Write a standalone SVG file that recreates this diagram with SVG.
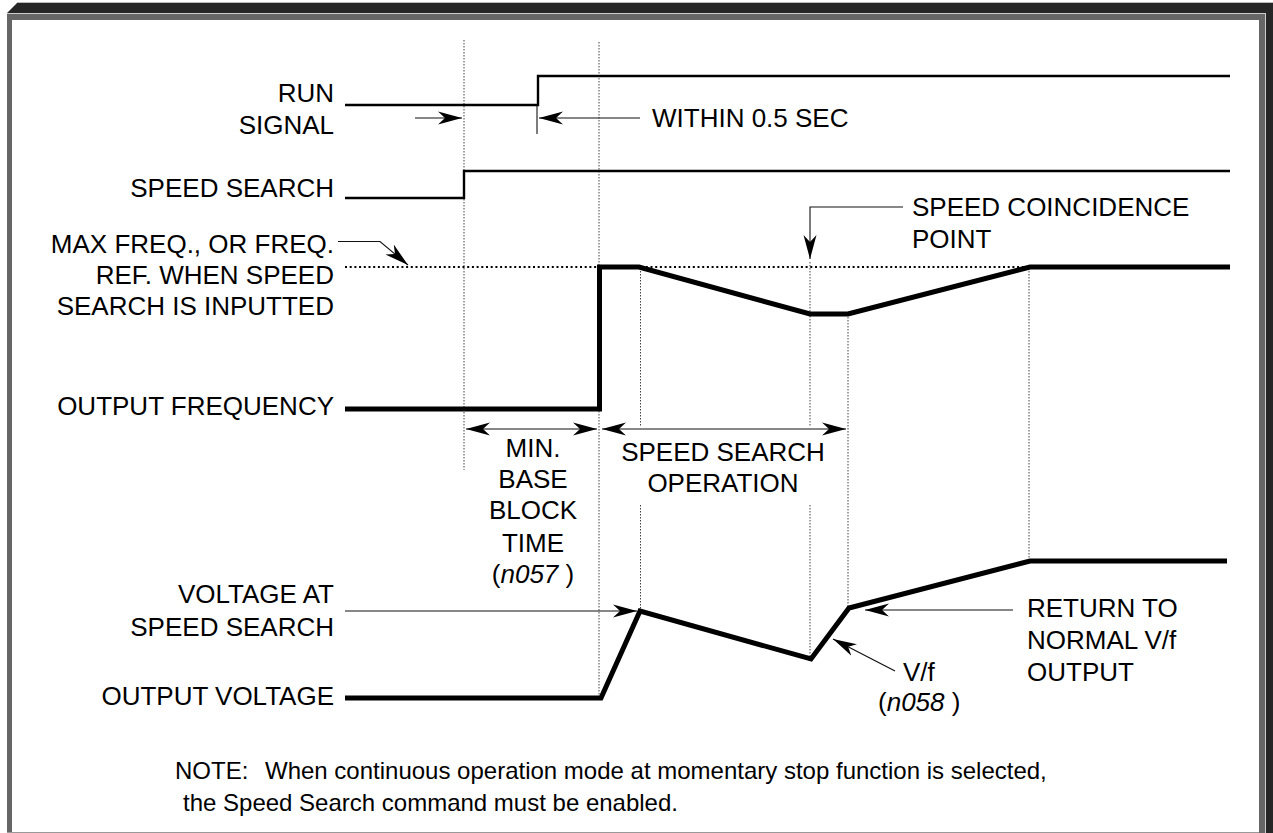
<svg xmlns="http://www.w3.org/2000/svg" width="1273" height="833" viewBox="0 0 1273 833">
<style>
text{font-family:"Liberation Sans",Arial,Helvetica,sans-serif;fill:#000}
.lbl{font-size:26px}
.end{text-anchor:end}
.mid{text-anchor:middle}
.note{font-size:24px}
.it{font-style:italic}
.sig{fill:none;stroke:#000;stroke-width:2.4}
.wave{fill:none;stroke:#000;stroke-width:5;stroke-linejoin:miter}
.guide{fill:none;stroke:#444;stroke-width:1;stroke-dasharray:1.5 1.5}
.ref{fill:none;stroke:#000;stroke-width:2;stroke-dasharray:2 2.7}
.lead{fill:none;stroke:#111;stroke-width:1.1}
</style>
<defs>
<marker id="ah" markerUnits="userSpaceOnUse" markerWidth="26" markerHeight="14" refX="24" refY="7" orient="auto-start-reverse" viewBox="0 0 26 14">
<path d="M0,0.5 L24,7 L0,13.5 L7,7 Z" fill="#000"/>
</marker>
</defs>
<rect width="1273" height="833" fill="#fff"/>
<g id="frame">
<polygon points="17,3 1273,3 1273,833 1266,833 1266,13 7,13" fill="#262626"/>
<line x1="17" y1="2.5" x2="1273" y2="2.5" stroke="#bbb" stroke-width="1"/>
<rect x="7" y="14" width="1258" height="6" fill="#666"/>
<rect x="7" y="14" width="5" height="819" fill="#666"/>
<rect x="1259" y="14" width="6" height="819" fill="#666"/>
<line x1="7" y1="13.5" x2="1266" y2="13.5" stroke="#ccc" stroke-width="1"/>
<line x1="1265.5" y1="14" x2="1265.5" y2="833" stroke="#ccc" stroke-width="1"/>
<line x1="7" y1="832.5" x2="1259" y2="832.5" stroke="#999" stroke-width="1"/>
</g>
<g id="guides">
<line class="guide" x1="464" y1="40" x2="464" y2="470"/>
<line class="guide" x1="599" y1="42" x2="599" y2="696"/>
<line class="guide" x1="640.5" y1="268" x2="640.5" y2="427"/>
<line class="guide" x1="640.5" y1="505" x2="640.5" y2="610"/>
<line class="guide" x1="810" y1="262" x2="810" y2="427"/>
<line class="guide" x1="810" y1="505" x2="810" y2="656"/>
<line class="guide" x1="848" y1="314" x2="848" y2="606"/>
<line class="guide" x1="1029" y1="268" x2="1029" y2="560"/>
<line class="ref" x1="345" y1="267" x2="1030" y2="267"/>
</g>
<g id="run-signal">
<text class="lbl end" x="334" y="102">RUN</text>
<text class="lbl end" x="334" y="134">SIGNAL</text>
<polyline class="sig" points="345,105 538,105 538,76 1230,76"/>
</g>
<g id="speed-search">
<text class="lbl end" x="334" y="197">SPEED SEARCH</text>
<polyline class="sig" points="345,198 464,198 464,171 1230,171"/>
</g>
<g id="max-freq">
<text class="lbl end" x="334" y="253">MAX FREQ., OR FREQ.</text>
<text class="lbl end" x="334" y="284">REF. WHEN SPEED</text>
<text class="lbl end" x="334" y="315">SEARCH IS INPUTTED</text>
</g>
<g id="output-frequency">
<text class="lbl end" x="334" y="415">OUTPUT FREQUENCY</text>
<polyline class="wave" points="345,409 599.5,409 599.5,267 639,267 810,314 848,314 1030,267 1230,267"/>
</g>
<g id="voltage-at-speed-search">
<text class="lbl end" x="334" y="603">VOLTAGE AT</text>
<text class="lbl end" x="334" y="636">SPEED SEARCH</text>
</g>
<g id="output-voltage">
<text class="lbl end" x="334" y="705">OUTPUT VOLTAGE</text>
<polyline class="wave" points="345,698 601,698 640,611 811,659 849,608 1030,561 1227,561"/>
</g>
<g id="within">
<text class="lbl" x="652" y="127">WITHIN 0.5 SEC</text>
</g>
<g id="coincidence">
<text class="lbl" x="912" y="216">SPEED COINCIDENCE</text>
<text class="lbl" x="912" y="248">POINT</text>
</g>
<g id="min-base-block">
<text class="lbl mid" x="533" y="457">MIN.</text>
<text class="lbl mid" x="533" y="488">BASE</text>
<text class="lbl mid" x="533" y="519">BLOCK</text>
<text class="lbl mid" x="533" y="552">TIME</text>
<text class="lbl mid" x="533" y="583">(<tspan class="it">n057</tspan> )</text>
</g>
<g id="speed-search-operation">
<text class="lbl mid" x="723" y="461">SPEED SEARCH</text>
<text class="lbl mid" x="723" y="492">OPERATION</text>
</g>
<g id="vf">
<text class="lbl" x="903" y="681">V/f</text>
<text class="lbl" x="878" y="711">(<tspan class="it">n058</tspan> )</text>
</g>
<g id="return-normal">
<text class="lbl" x="1027" y="617">RETURN TO</text>
<text class="lbl" x="1027" y="649">NORMAL V/f</text>
<text class="lbl" x="1027" y="681">OUTPUT</text>
</g>
<g id="note">
<text class="note" x="175" y="779">NOTE:</text>
<text class="note" x="265" y="779">When continuous operation mode at momentary stop function is selected,</text>
<text class="note" x="183" y="811">the Speed Search command must be enabled.</text>
</g>
<g id="connectors">
<line class="lead" x1="415" y1="118" x2="462" y2="118" marker-end="url(#ah)"/>
<line class="lead" x1="640" y1="118" x2="539" y2="118" marker-end="url(#ah)"/>
<line class="lead" x1="537" y1="105" x2="537" y2="134"/>
<polyline class="lead" points="338,241.5 380,241.5 408,265" marker-end="url(#ah)"/>
<polyline class="lead" points="903,207 810,207 810,259" marker-end="url(#ah)"/>
<line class="lead" x1="466" y1="429" x2="597" y2="429" marker-start="url(#ah)" marker-end="url(#ah)"/>
<line class="lead" x1="602" y1="429" x2="846" y2="429" marker-start="url(#ah)" marker-end="url(#ah)"/>
<line class="lead" x1="345" y1="611" x2="637" y2="611" marker-end="url(#ah)"/>
<line class="lead" x1="895" y1="671" x2="833" y2="639" marker-end="url(#ah)"/>
<line class="lead" x1="1013" y1="610" x2="865" y2="610" marker-end="url(#ah)"/>
</g>
</svg>
